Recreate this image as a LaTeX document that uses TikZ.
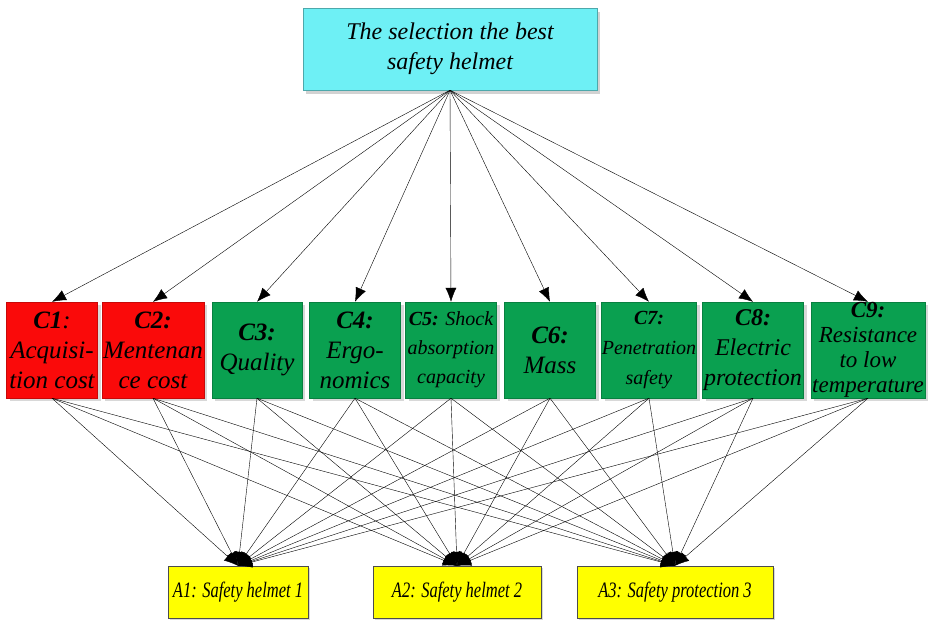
\documentclass[tikz,border=0pt]{standalone}
\usepackage{fontspec}
\setmainfont{Liberation Serif}
\usepackage{xcolor}
\usepackage{graphicx}
\usepackage{tikz}
\usetikzlibrary{arrows.meta,positioning,shadows}

\definecolor{goalcyan}{RGB}{110,240,245}
\definecolor{costred}{RGB}{250,10,10}
\definecolor{critgreen}{RGB}{10,160,80}
\definecolor{altyellow}{RGB}{255,255,0}

\newcommand{\narrowtext}[1]{\scalebox{0.75}[1]{#1}}

\begin{document}
\begin{tikzpicture}[x=1pt,y=-1pt,
  >={Latex[length=14pt,width=11pt]},
  every node/.style={inner sep=0pt,align=center}
]

\tikzstyle{goal}=[draw=goalcyan!70!black,fill=goalcyan,minimum width=294pt,minimum height=82pt,
  font=\fontsize{24}{30}\selectfont\itshape,drop shadow={shadow xshift=3pt,shadow yshift=-4pt,fill=black!35}]
\tikzstyle{alt}=[draw=black!70,fill=altyellow,minimum height=52pt,
  font=\fontsize{22}{24}\selectfont\itshape,drop shadow={shadow xshift=2pt,shadow yshift=-2pt,fill=black!30}]
\tikzset{crit style/.style={rectangle,fill=#1,draw=#1!80!black,minimum height=96pt,
  font=\fontsize{25}{30}\selectfont\itshape,drop shadow={shadow xshift=3pt,shadow yshift=-3pt,fill=black!30}}}
\tikzset{link/.style={draw,->,thin}}

\useasboundingbox (0,0) rectangle (928,621);

% goal
\node[goal] (g) at (450,49) {The selection the best\\safety helmet};

% criteria
\node[crit style=costred,minimum width=91pt]     (c1) at (52,350)  {\textbf{C1}:\\Acquisi-\\tion cost};
\node[crit style=costred,minimum width=102pt]    (c2) at (153,350) {\textbf{C2:}\\Mentenan\\ce cost};
\node[crit style=critgreen,minimum width=90pt]   (c3) at (257,350) {\textbf{C3:}\\Quality};
\node[crit style=critgreen,minimum width=91pt]   (c4) at (355,350) {\textbf{C4:}\\Ergo-\\nomics};
\node[crit style=critgreen,minimum width=91pt,font=\fontsize{20}{29}\selectfont\itshape]
                                                 (c5) at (451,350) {\textbf{C5:} Shock\\absorption\\capacity};
\node[crit style=critgreen,minimum width=91pt]   (c6) at (550,350) {\textbf{C6:}\\Mass};
\node[crit style=critgreen,minimum width=95pt,font=\fontsize{20}{30}\selectfont\itshape]
                                                 (c7) at (649,350) {\textbf{C7:}\\Penetration\\safety};
\node[crit style=critgreen,minimum width=101pt,font=\fontsize{24}{30}\selectfont\itshape]
                                                 (c8) at (753,350) {\textbf{C8:}\\Electric\\protection};
\node[crit style=critgreen,minimum width=114pt,font=\fontsize{23}{25}\selectfont\itshape]
                                                 (c9) at (868,350) {\textbf{C9:}\\Resistance\\to low\\temperature};

% alternatives
\node[alt,minimum width=140pt] (a1) at (238,592) {\narrowtext{A1: Safety helmet 1}};
\node[alt,minimum width=168pt] (a2) at (457,592) {\narrowtext{A2: Safety helmet 2}};
\node[alt,minimum width=196pt] (a3) at (675,592) {\narrowtext{A3: Safety protection 3}};

\path[every edge/.style=link]
  (g.south) edge (c1.north)
  (g.south) edge (c2.north)
  (g.south) edge (c3.north)
  (g.south) edge (c4.north)
  (g.south) edge (c5.north)
  (g.south) edge (c6.north)
  (g.south) edge (c7.north)
  (g.south) edge (c8.north)
  (g.south) edge (c9.north);

\path[every edge/.style=link]
  (c1.south) edge (a1.north) edge (a2.north) edge (a3.north)
  (c2.south) edge (a1.north) edge (a2.north) edge (a3.north)
  (c3.south) edge (a1.north) edge (a2.north) edge (a3.north)
  (c4.south) edge (a1.north) edge (a2.north) edge (a3.north)
  (c5.south) edge (a1.north) edge (a2.north) edge (a3.north)
  (c6.south) edge (a1.north) edge (a2.north) edge (a3.north)
  (c7.south) edge (a1.north) edge (a2.north) edge (a3.north)
  (c8.south) edge (a1.north) edge (a2.north) edge (a3.north)
  (c9.south) edge (a1.north) edge (a2.north) edge (a3.north);

\end{tikzpicture}
\end{document}
